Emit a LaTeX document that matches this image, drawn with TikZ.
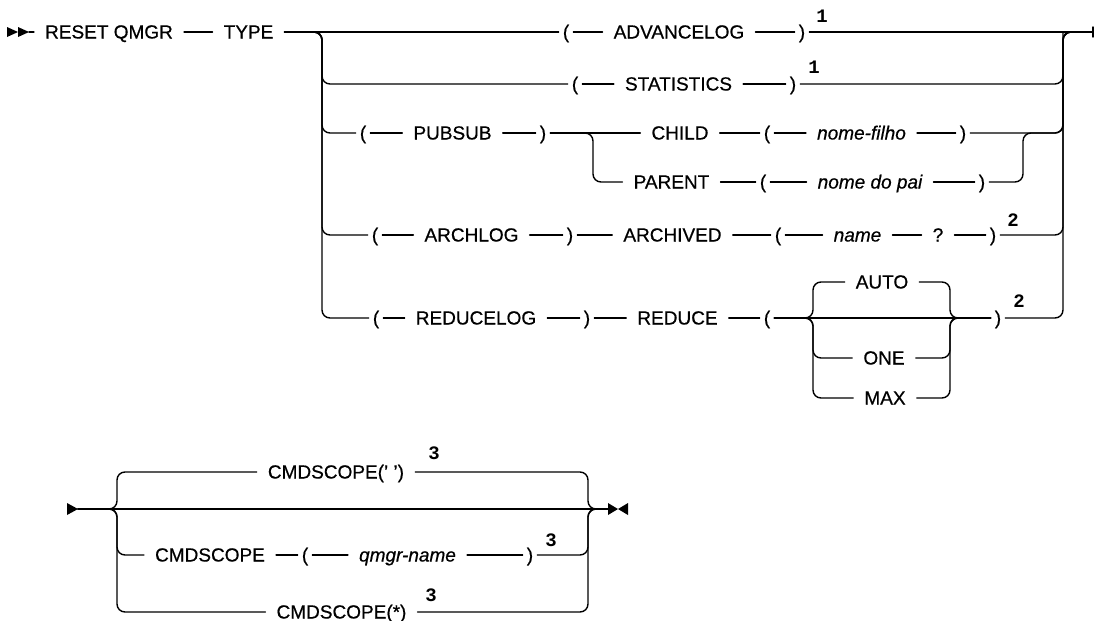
\documentclass[tikz,border=0pt]{standalone}
\usepackage{fontspec}
\setmainfont{Liberation Sans}[FakeBold=0.6]
\setmonofont{Liberation Mono}
\begin{document}
\begin{tikzpicture}[
  x=1pt,
  y=-1pt,
  line cap=round,
  line join=round,
  rail/.style={line width=1.4pt, rounded corners=8pt},
  rail word/.style={inner xsep=11pt, inner ysep=0pt, text height=13pt,
    text depth=0pt, font=\fontsize{19}{19}\selectfont},
  rail var/.style={rail word, font=\fontsize{19}{19}\selectfont\itshape},
  rail paren/.style={rail word, inner xsep=4pt},
  rail note/.style={inner sep=0pt, font=\fontsize{19}{19}\selectfont\ttfamily\bfseries},
  rail tip/.style={fill=black, draw=none}
]
  \useasboundingbox (0,0) rectangle (1095,621);

  % Bus points where the alternatives split off and join again.
  \coordinate (start) at (29,32);
  \coordinate (lbus) at (322,32);
  \coordinate (rbus) at (1063,32);
  \coordinate (endtop) at (1093,32);
  \coordinate (pbus) at (593,133);
  \coordinate (cbus) at (1023,133);
  \coordinate (abus) at (813,318);
  \coordinate (zbus) at (950,318);

  % Start of the statement.
  \fill[rail tip] (7,27) -- (18,32) -- (7,37) -- cycle;
  \fill[rail tip] (18,27) -- (29,32) -- (18,37) -- cycle;
  \node[rail word] (reset) at (109,32) {RESET QMGR};
  \node[rail word] (type) at (248.5,32) {TYPE};
  \draw[rail] (start) -- (reset);
  \draw[rail] (reset) -- (type);

  % ADVANCELOG.
  \node[rail paren] (advopen) at (566,32) {(};
  \node[rail word] (adv) at (679,32) {ADVANCELOG};
  \node[rail paren] (advclose) at (802,32) {)};
  \node[rail note] (noteadv) at (822,16) {1};
  \draw[rail] (type) -- (advopen);
  \draw[rail] (advopen) -- (adv);
  \draw[rail] (adv) -- (advclose);
  \draw[rail] (advclose) -- (endtop);
  \draw[line width=1.4pt] ([yshift=5pt]endtop) -- ([yshift=-5pt]endtop);

  % STATISTICS.
  \node[rail paren] (statopen) at (575,84) {(};
  \node[rail word] (stat) at (678.5,84) {STATISTICS};
  \node[rail paren] (statclose) at (793,84) {)};
  \node[rail note] (notestat) at (814,67) {1};
  \draw[rail] (type) -- (lbus) |- (statopen);
  \draw[rail] (statopen) -- (stat);
  \draw[rail] (stat) -- (statclose);
  \draw[rail] (statclose) -| (rbus) -- (endtop);

  % PUBSUB with CHILD or PARENT.
  \node[rail paren] (pubopen) at (363,133) {(};
  \node[rail word] (pubsub) at (452.5,133) {PUBSUB};
  \node[rail paren] (pubclose) at (543,133) {)};
  \node[rail word] (child) at (680,133) {CHILD};
  \node[rail paren] (childopen) at (767,133) {(};
  \node[rail var] (childname) at (861.5,133) {nome-filho};
  \node[rail paren] (childclose) at (963,133) {)};
  \draw[rail] (type) -- (lbus) |- (pubopen);
  \draw[rail] (pubopen) -- (pubsub);
  \draw[rail] (pubsub) -- (pubclose);
  \draw[rail] (pubclose) -- (child);
  \draw[rail] (child) -- (childopen);
  \draw[rail] (childopen) -- (childname);
  \draw[rail] (childname) -- (childclose);
  \draw[rail] (childclose) -| (rbus) -- (endtop);

  \node[rail word] (parent) at (671.5,182) {PARENT};
  \node[rail paren] (parentopen) at (763,182) {(};
  \node[rail var] (parentname) at (870,182) {nome do pai};
  \node[rail paren] (parentclose) at (982,182) {)};
  \draw[rail] (pubclose) -- (pbus) |- (parent);
  \draw[rail] (parent) -- (parentopen);
  \draw[rail] (parentopen) -- (parentname);
  \draw[rail] (parentname) -- (parentclose);
  \draw[rail] (parentclose) -| (cbus) -| (rbus);

  % ARCHLOG.
  \node[rail paren] (archopen) at (375,235) {(};
  \node[rail word] (archlog) at (471.5,235) {ARCHLOG};
  \node[rail paren] (archclose) at (570,235) {)};
  \node[rail word] (archived) at (672.5,235) {ARCHIVED};
  \node[rail paren] (archnopen) at (778,235) {(};
  \node[rail var] (archname) at (857.5,235) {name};
  \node[rail word] (qmark) at (938,235) {?};
  \node[rail paren] (archnclose) at (993,235) {)};
  \node[rail note] (notearch) at (1013,220) {2};
  \draw[rail] (type) -- (lbus) |- (archopen);
  \draw[rail] (archopen) -- (archlog);
  \draw[rail] (archlog) -- (archclose);
  \draw[rail] (archclose) -- (archived);
  \draw[rail] (archived) -- (archnopen);
  \draw[rail] (archnopen) -- (archname);
  \draw[rail] (archname) -- (qmark);
  \draw[rail] (qmark) -- (archnclose);
  \draw[rail] (archnclose) -| (rbus) -- (endtop);

  % REDUCELOG with AUTO, ONE or MAX.
  \node[rail paren] (redopen) at (376,318) {(};
  \node[rail word] (reducelog) at (476,318) {REDUCELOG};
  \node[rail paren] (redclose) at (587,318) {)};
  \node[rail word] (reduce) at (677.5,318) {REDUCE};
  \node[rail paren] (rednopen) at (767,318) {(};
  \node[rail word] (auto) at (882,282) {AUTO};
  \node[rail word] (one) at (884,358) {ONE};
  \node[rail word] (max) at (885,398) {MAX};
  \node[rail paren] (rednclose) at (998,318) {)};
  \node[rail note] (noteredu) at (1019,301) {2};
  \draw[rail] (type) -- (lbus) |- (redopen);
  \draw[rail] (redopen) -- (reducelog);
  \draw[rail] (reducelog) -- (redclose);
  \draw[rail] (redclose) -- (reduce);
  \draw[rail] (reduce) -- (rednopen);
  \draw[rail] (rednopen) -- (rednclose);
  \foreach \opt in {auto, one, max} {
    \draw[rail] (rednopen) -- (abus) |- (\opt);
    \draw[rail] (\opt) -| (zbus) -- (rednclose);
  }
  \draw[rail] (rednclose) -| (rbus) -- (endtop);

  % CMDSCOPE part of the statement.
  \coordinate (scopein) at (78,509);
  \coordinate (lscope) at (117,509);
  \coordinate (rscope) at (588,509);
  \coordinate (scopeout) at (608,509);
  \fill[rail tip] (67,503) -- (78,509) -- (67,515) -- cycle;
  \fill[rail tip] (608,503) -- (618,509) -- (608,515) -- cycle;
  \fill[rail tip] (628,503) -- (618,509) -- (628,515) -- cycle;
  \draw[rail] (scopein) -- (scopeout);

  \node[rail word] (cs1) at (336,472) {CMDSCOPE(' ')};
  \node[rail note] (notecs1) at (434,453) {3};
  \draw[rail] (scopein) -- (lscope) |- (cs1);
  \draw[rail] (cs1) -| (rscope) -- (scopeout);

  \node[rail word] (cs2) at (210,555) {CMDSCOPE};
  \node[rail paren] (cs2open) at (305,555) {(};
  \node[rail var] (qmgr) at (407.5,555) {qmgr-name};
  \node[rail paren] (cs2close) at (530,555) {)};
  \node[rail note] (notecs2) at (551,540) {3};
  \draw[rail] (scopein) -- (lscope) |- (cs2);
  \draw[rail] (cs2) -- (cs2open);
  \draw[rail] (cs2open) -- (qmgr);
  \draw[rail] (qmgr) -- (cs2close);
  \draw[rail] (cs2close) -| (rscope) -- (scopeout);

  \node[rail word] (cs3) at (341.5,612) {CMDSCOPE(*)};
  \node[rail note] (notecs3) at (431,595) {3};
  \draw[rail] (scopein) -- (lscope) |- (cs3);
  \draw[rail] (cs3) -| (rscope) -- (scopeout);
\end{tikzpicture}
\end{document}
